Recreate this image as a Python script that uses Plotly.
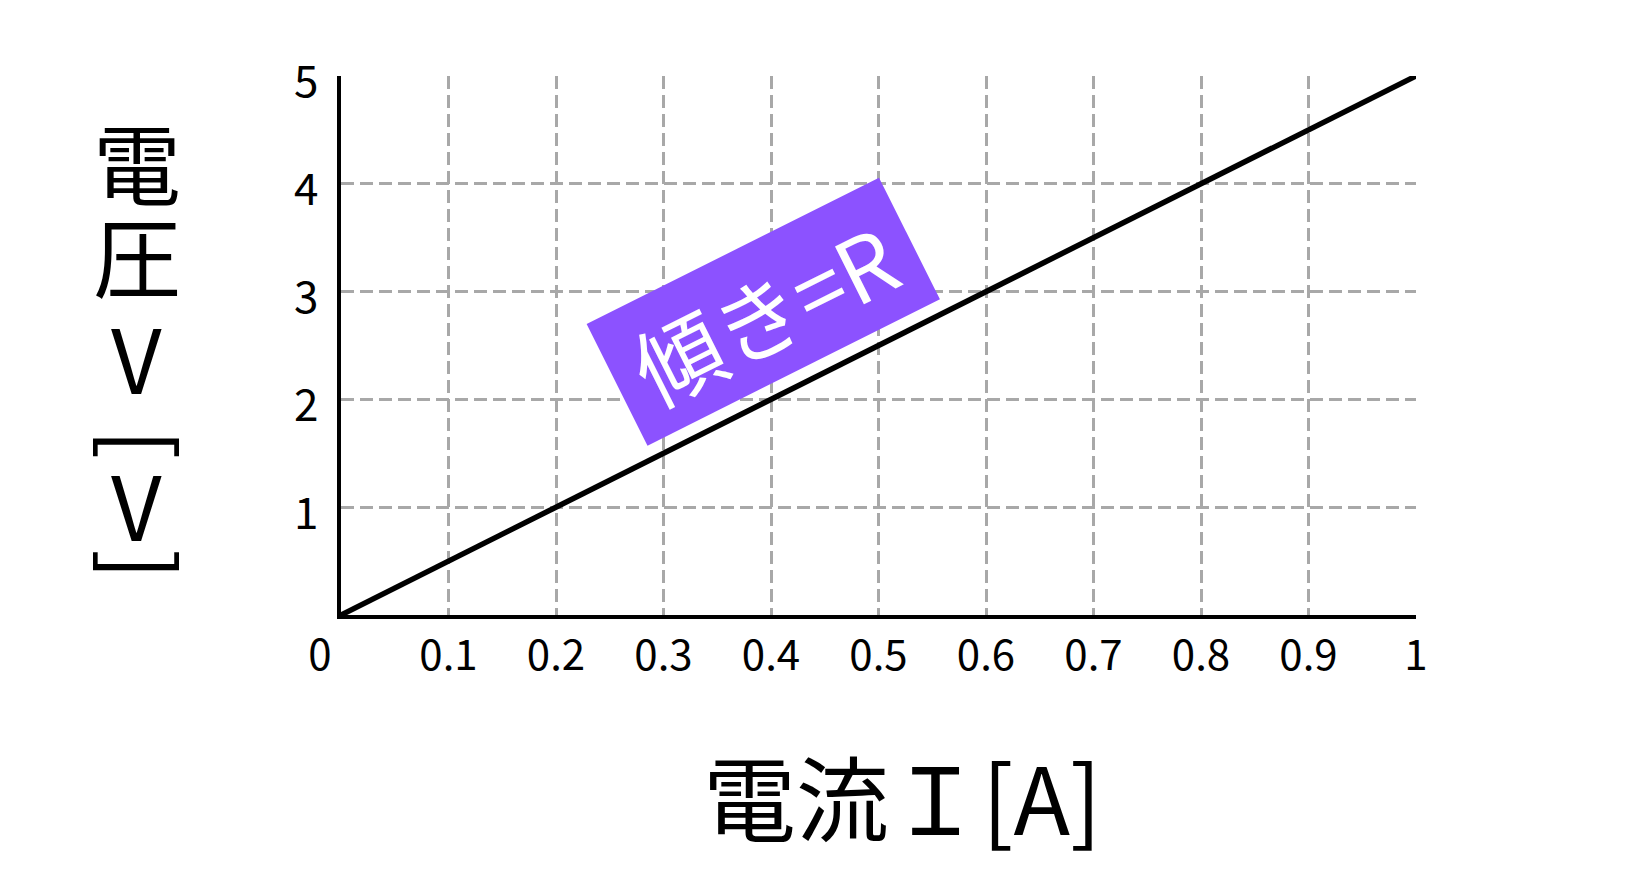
import plotly.graph_objects as go

# Data
current_A = [0.0, 1.0]
voltage_V = [0.0, 5.0]
x_ticks = [0, 0.1, 0.2, 0.3, 0.4, 0.5, 0.6, 0.7, 0.8, 0.9, 1]
x_tick_labels = ["0\u2003", "0.1", "0.2", "0.3", "0.4", "0.5", "0.6", "0.7", "0.8", "0.9", "1"]
y_ticks = [1, 2, 3, 4, 5]
y_tick_labels = ["1", "2", "3", "4", "5"]
x_title = "電流Ｉ[A]"
y_title_chars = ["電", "圧", "V", "[", "V", "]"]
slope_label = "傾き=R"

FONT = "Noto Sans CJK JP"
GRID = "#A8A8A8"
PURPLE = "#8C52FF"

fig = go.Figure()
fig.add_trace(go.Scatter(
    x=current_A, y=voltage_V, mode="lines",
    line=dict(color="black", width=5.5), showlegend=False, hoverinfo="skip",
))

fig.update_layout(
    width=1640, height=882,
    margin=dict(l=333, r=232, t=68, b=275),
    paper_bgcolor="white", plot_bgcolor="white",
    font=dict(family=FONT, color="black"),
    showlegend=False,
)
fig.update_xaxes(
    range=[0, 1], tickvals=x_ticks, ticktext=x_tick_labels,
    showgrid=True, gridcolor=GRID, gridwidth=3.3, griddash="13px,6px",
    showline=True, linecolor="black", linewidth=3.5,
    zeroline=False, ticks="", ticklabelstandoff=1,
    tickfont=dict(family=FONT, size=42, color="black"),
)
fig.update_yaxes(
    range=[0, 5], tickvals=y_ticks, ticktext=y_tick_labels,
    showgrid=True, gridcolor=GRID, gridwidth=3.3, griddash="13px,6px",
    showline=True, linecolor="black", linewidth=3.5,
    zeroline=False, ticks="", ticklabelstandoff=10, ticklabelshift=6,
    tickfont=dict(family=FONT, size=44, color="black"),
)

# x-axis title
fig.add_annotation(
    text=x_title, xref="paper", yref="paper", x=0.522, y=-0.333,
    xanchor="center", yanchor="middle", showarrow=False,
    font=dict(family=FONT, size=93, color="black"),
)

# y-axis title, written vertically one character at a time
y_pos = [0.846, 0.672, 0.481, 0.318, 0.208, 0.095]
for ch, yp in zip(y_title_chars, y_pos):
    is_bracket = ch in "[]"
    fig.add_annotation(
        text=ch, xref="paper", yref="paper",
        x=-0.180 if is_bracket else -0.190, y=yp,
        xanchor="center", yanchor="middle", showarrow=False,
        textangle=90 if is_bracket else 0,
        font=dict(family=FONT, size=90 if is_bracket else 88, color="black"),
    )

# slope label
fig.add_annotation(
    text=slope_label, xref="x", yref="y", x=0.393, y=2.82,
    xanchor="center", yanchor="middle", showarrow=False,
    textangle=-26.6, bgcolor=PURPLE, borderpad=0, width=326, height=135,
    font=dict(family=FONT, size=88, color="white"),
)

fig.write_html("out.html")
